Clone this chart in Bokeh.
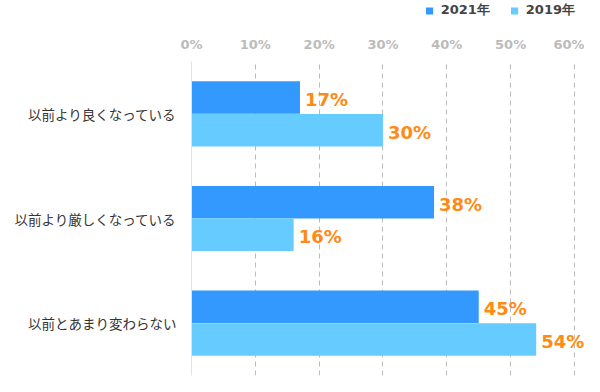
from bokeh.plotting import figure
from bokeh.layouts import column
from bokeh.models import (ColumnDataSource, FactorRange, Range1d, Legend, LegendItem,
                          PrintfTickFormatter, FixedTicker, LabelSet)
from bokeh.transform import dodge
from bokeh.core.properties import value
from bokeh.embed import file_html
from bokeh.resources import INLINE

categories = ["以前より良くなっている", "以前より厳しくなっている", "以前とあまり変わらない"]
series_names = ["2021年", "2019年"]
series_2021 = [17, 38, 45]
series_2019 = [30, 16, 54]
x_ticks = [0, 10, 20, 30, 40, 50, 60]

c2021 = "#3399FF"
c2019 = "#66CCFF"
orange = "#FF8A14"

src = ColumnDataSource(dict(
    cat=categories,
    v2021=series_2021,
    v2019=series_2019,
    l2021=[f"{v}%" for v in series_2021],
    l2019=[f"{v}%" for v in series_2019],
))

W = 584

# ---- legend strip (its bars lie outside its visible range; only the legend shows) ----
lg = figure(width=W, height=20, output_backend="svg", toolbar_location=None,
            x_range=Range1d(-10, -9), y_range=FactorRange(factors=categories),
            x_axis_location=None, y_axis_location=None,
            min_border_left=0, min_border_right=0, min_border_top=0, min_border_bottom=0)
lg.outline_line_color = None
lg.grid.visible = False
d1 = lg.hbar(y="cat", right="v2021", left=0, height=0.5, fill_color=c2021,
             line_color=None, source=src)
d2 = lg.hbar(y="cat", right="v2019", left=0, height=0.5, fill_color=c2019,
             line_color=None, source=src)
legend = Legend(items=[LegendItem(label=series_names[0], renderers=[d1]),
                       LegendItem(label=series_names[1], renderers=[d2])],
                orientation="horizontal", location="right",
                padding=0, margin=9, spacing=20, label_standoff=7,
                glyph_width=9, glyph_height=9, label_height=14,
                border_line_color=None, background_fill_alpha=0,
                label_text_font="DejaVu Sans", label_text_font_style="bold",
                label_text_font_size="13px", label_text_color="#444444")
lg.add_layout(legend, "center")

# ---- main chart ----
p = figure(width=W, height=356, output_backend="svg", toolbar_location=None,
           y_range=FactorRange(factors=list(reversed(categories))),
           x_range=Range1d(0, 61.57), x_axis_location="above",
           min_border_left=191, min_border_right=0, min_border_top=41, min_border_bottom=1)
p.outline_line_color = None
p.background_fill_color = "white"

bh = 0.31
off = 0.156
y21 = dodge("cat", off, range=p.y_range)
y19 = dodge("cat", -off, range=p.y_range)
r1 = p.hbar(y=y21, right="v2021", left=0, height=bh,
            fill_color=c2021, line_color=None, source=src)
r2 = p.hbar(y=y19, right="v2019", left=0, height=bh,
            fill_color=c2019, line_color=None, source=src)

for xcol, ycol, tcol in (("v2021", y21, "l2021"), ("v2019", y19, "l2019")):
    ls = LabelSet(x=xcol, y=ycol, text=tcol, source=src,
                  x_offset=5, y_offset=-2, text_baseline="middle", text_align="left",
                  text_color=orange, text_font=value("DejaVu Sans"), text_font_style="bold",
                  text_font_size="18px")
    p.add_layout(ls)

# x axis (top)
xa = p.xaxis[0]
xa.ticker = FixedTicker(ticks=x_ticks)
xa.formatter = PrintfTickFormatter(format="%d%%")
xa.axis_line_color = None
xa.major_tick_line_color = None
xa.minor_tick_line_color = None
xa.major_tick_out = 0
xa.major_tick_in = 0
xa.major_label_standoff = 10
xa.major_label_text_font = "DejaVu Sans"
xa.major_label_text_font_style = "bold"
xa.major_label_text_font_size = "13px"
xa.major_label_text_color = "#BBBBBB"

# y axis
ya = p.yaxis[0]
ya.axis_line_color = "#E3E3E3"
ya.axis_line_width = 1
ya.major_tick_line_color = None
ya.minor_tick_line_color = None
ya.major_tick_out = 0
ya.major_tick_in = 0
ya.major_label_standoff = 15
ya.major_label_text_font = "Noto Sans CJK JP"
ya.major_label_text_font_size = "13.5px"
ya.major_label_text_color = "#333333"

p.ygrid.grid_line_color = None
p.xgrid.ticker = FixedTicker(ticks=x_ticks[1:])
p.xgrid.grid_line_color = "#BBBBBB"
p.xgrid.grid_line_dash = "5 4"
p.xgrid.grid_line_width = 1

layout = column(lg, p, spacing=0)
open("out.html", "w").write(file_html(layout, INLINE))
